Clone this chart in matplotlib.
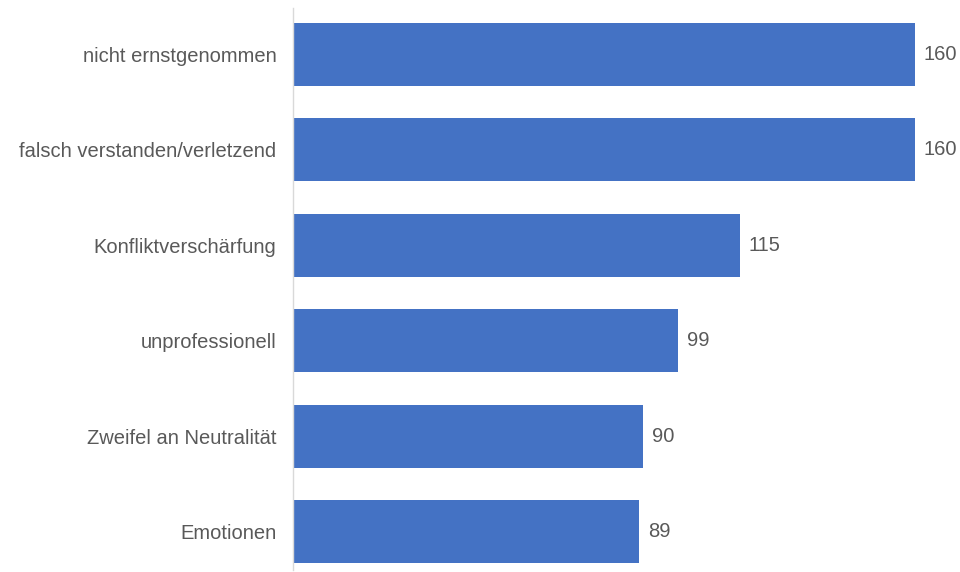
import matplotlib.pyplot as plt

plt.rcParams['font.family'] = ['Liberation Sans', 'DejaVu Sans']

categories = ['nicht ernstgenommen', 'falsch verstanden/verletzend', 'Konfliktverschärfung',
              'unprofessionell', 'Zweifel an Neutralität', 'Emotionen']
values = [160, 160, 115, 99, 90, 89]

bar_color = '#4472C4'
text_color = '#595959'

fig = plt.figure(figsize=(9.6, 5.72), dpi=100)
ax = fig.add_axes([293 / 960, 2 / 572, 667 / 960, 562 / 572])

pos = list(range(len(categories)))
ax.barh(pos, values, height=0.66, color=bar_color)
for y, v in zip(pos, values):
    ax.text(v + 2.3, y, str(v), va='center', ha='left', fontsize=14.5, color=text_color)

ax.set_yticks(pos)
ax.set_yticklabels(categories, fontsize=14.5, color=text_color)
ax.set_ylim(len(categories) - 1 + 0.403, -0.482)
ax.set_xlim(0, 171.6)
ax.set_xticks([])
ax.tick_params(axis='y', length=0, pad=12)
for side in ['top', 'right', 'bottom']:
    ax.spines[side].set_visible(False)
ax.spines['left'].set_color('#d9d9d9')
ax.spines['left'].set_linewidth(1)

fig.savefig('out.png', dpi=100)
